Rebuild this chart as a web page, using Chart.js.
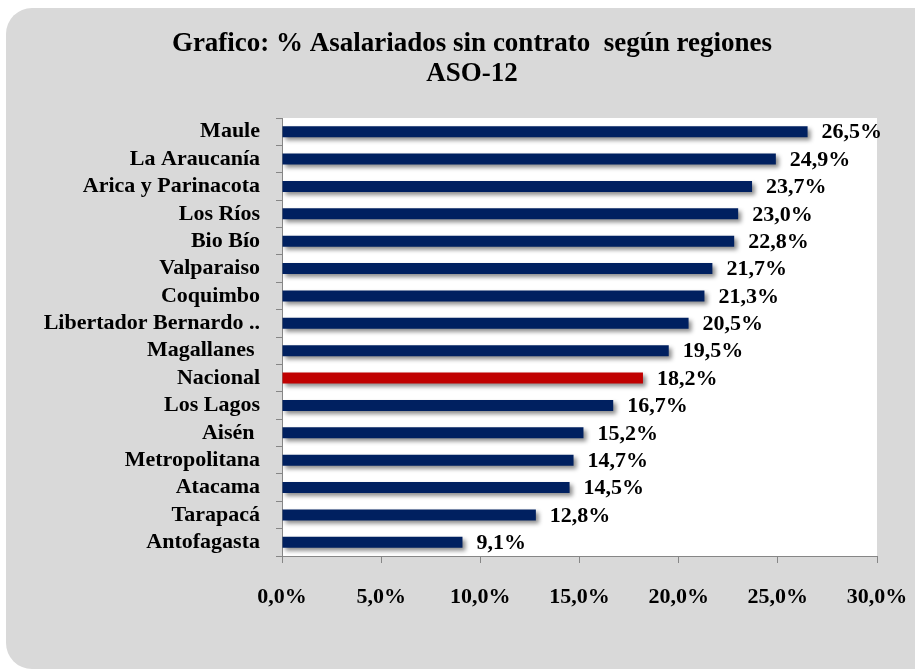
<!DOCTYPE html>
<html lang="es">
<head>
<meta charset="utf-8">
<title>Asalariados sin contrato según regiones</title>
<script src="https://cdn.jsdelivr.net/npm/chart.js@4.4.1/dist/chart.umd.min.js"></script>
<style>
  body { margin: 0; background: #fff; }
  canvas { display: block; }
</style>
</head>
<body>
<canvas id="grafico" width="917" height="669"></canvas>
<script>
// datos del grafico
const titulo = ['Grafico: % Asalariados sin contrato  según regiones', 'ASO-12'];
const regiones = ['Maule', 'La Araucanía', 'Arica y Parinacota', 'Los Ríos', 'Bio Bío', 'Valparaiso',
    'Coquimbo', 'Libertador Bernardo ..', 'Magallanes ', 'Nacional', 'Los Lagos', 'Aisén ',
    'Metropolitana', 'Atacama', 'Tarapacá', 'Antofagasta'];
const porcentajes = [26.5, 24.9, 23.7, 23.0, 22.8, 21.7, 21.3, 20.5, 19.5, 18.2, 16.7, 15.2, 14.7, 14.5, 12.8, 9.1];
const ticksEje = ['0,0%', '5,0%', '10,0%', '15,0%', '20,0%', '25,0%', '30,0%'];

const fuente = '"Liberation Serif", "Times New Roman", serif';
const formato = v => v.toFixed(1).replace('.', ',') + '%';

// fondo gris, area blanca y titulo
const fondo = {
    id: 'fondo',
    beforeDraw(chart) {
        const ctx = chart.ctx;
        const a = chart.chartArea;
        ctx.save();
        ctx.fillStyle = '#d9d9d9';
        ctx.beginPath();
        ctx.roundRect(6, 8, 909, 661, [26, 0, 0, 26]);
        ctx.fill();
        ctx.fillStyle = '#ffffff';
        ctx.fillRect(a.left, a.top, a.right - a.left, a.bottom - a.top);
        ctx.fillStyle = '#000';
        ctx.font = 'bold 27px ' + fuente;
        ctx.textAlign = 'center';
        ctx.textBaseline = 'middle';
        ctx.fillText(titulo[0], 472, 44);
        ctx.fillText(titulo[1], 472, 74);
        ctx.restore();
    }
};

// sombra de las barras y etiquetas de valor
const sombra = {
    id: 'sombra',
    beforeDatasetsDraw(chart) {
        const ctx = chart.ctx;
        ctx.save();
        ctx.shadowColor = 'rgba(0, 0, 0, 0.45)';
        ctx.shadowBlur = 4;
        ctx.shadowOffsetX = 3;
        ctx.shadowOffsetY = 3;
    },
    afterDatasetsDraw(chart) {
        const ctx = chart.ctx;
        ctx.restore();
        ctx.save();
        ctx.fillStyle = '#000';
        ctx.font = 'bold 22px ' + fuente;
        ctx.textAlign = 'left';
        ctx.textBaseline = 'middle';
        chart.getDatasetMeta(0).data.forEach((bar, i) => {
            ctx.fillText(formato(porcentajes[i]), bar.x + 14, bar.y + 1);
        });
        ctx.restore();
    }
};

const ctx = document.getElementById('grafico').getContext('2d');
new Chart(ctx, {
    type: 'bar',
    data: {
        labels: regiones,
        datasets: [{
            data: porcentajes,
            backgroundColor: regiones.map(r => r === 'Nacional' ? '#c00000' : '#002060'),
            barPercentage: 0.4,
            categoryPercentage: 1.0
        }]
    },
    options: {
        indexAxis: 'y',
        responsive: false,
        animation: false,
        layout: {
            padding: { top: 118, right: 40, left: 0, bottom: 0 }
        },
        plugins: {
            legend: { display: false },
            tooltip: { enabled: false }
        },
        scales: {
            x: {
                min: 0,
                max: 30,
                ticks: {
                    stepSize: 5,
                    maxRotation: 0,
                    padding: 21,
                    color: '#000',
                    font: { family: fuente, size: 22, weight: 'bold' },
                    callback: (v, i) => ticksEje[i]
                },
                grid: { drawOnChartArea: false, tickLength: 7, color: '#868686' },
                border: { color: '#868686' },
                afterFit: s => { s.height = 113; s.paddingLeft = 0; s.paddingRight = 0; }
            },
            y: {
                ticks: {
                    autoSkip: false,
                    padding: 16,
                    color: '#000',
                    font: { family: fuente, size: 22, weight: 'bold' }
                },
                grid: { drawOnChartArea: false, tickLength: 6, color: '#868686', offset: true },
                border: { color: '#868686' },
                afterFit: s => { s.width = 282; s.paddingTop = 0; s.paddingBottom = 0; }
            }
        }
    },
    plugins: [fondo, sombra]
});
</script>
</body>
</html>
